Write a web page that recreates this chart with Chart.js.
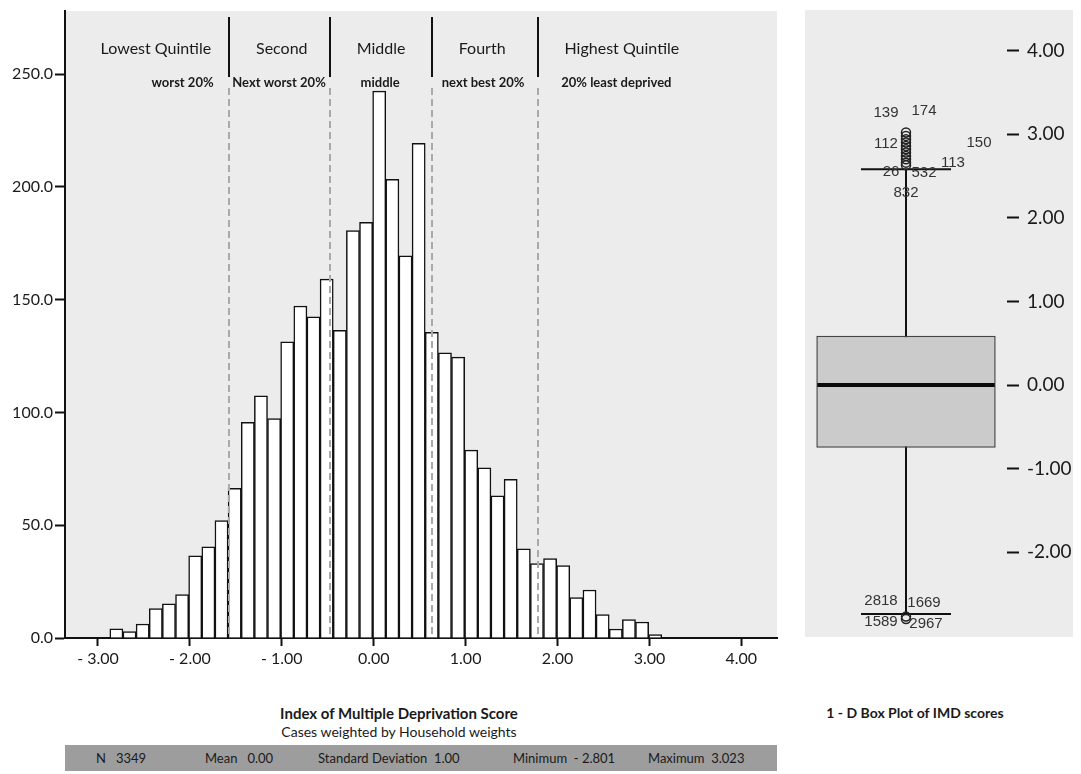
<!DOCTYPE html>
<html><head><meta charset="utf-8">
<script src="https://cdn.jsdelivr.net/npm/chart.js@4"></script>
<style>
body{margin:0;background:#fff;width:1081px;height:774px;position:relative;overflow:hidden;font-family:Lato,sans-serif;color:#1a1a1a}
#c1{position:absolute;left:0;top:0}
#c2{position:absolute;left:805px;top:10px;background:#ececec}
.t{position:absolute;white-space:nowrap}
#stats{position:absolute;left:65px;top:745px;width:712px;height:26px;background:#9d9d9d;font-size:13px;line-height:26px}
#stats span{position:absolute;top:0;white-space:pre}
</style></head><body>
<canvas id="c1" width="800" height="690"></canvas>
<canvas id="c2" width="268" height="627"></canvas>
<div class="t" style="left:0;width:798px;top:704px;text-align:center;font-weight:700;font-size:15px">Index of Multiple Deprivation Score</div>
<div class="t" style="left:0;width:798px;top:723px;text-align:center;font-size:14px">Cases weighted by Household weights</div>
<div class="t" style="left:815px;width:200px;top:704px;text-align:center;font-weight:700;font-size:14px">1 - D Box Plot of IMD scores</div>
<div id="stats">
<span style="left:31px">N   3349</span>
<span style="left:140px">Mean   0.00</span>
<span style="left:253px">Standard Deviation  1.00</span>
<span style="left:448px">Minimum  - 2.801</span>
<span style="left:583px">Maximum  3.023</span>
</div>
<script>
// ---- histogram data ----
const binCenters = [-2.800,-2.657,-2.514,-2.371,-2.228,-2.085,-1.942,-1.799,-1.656,-1.513,
  -1.370,-1.227,-1.084,-0.941,-0.798,-0.655,-0.512,-0.369,-0.226,-0.083,
  0.060,0.203,0.346,0.489,0.632,0.775,0.918,1.061,1.204,1.347,
  1.490,1.633,1.776,1.919,2.062,2.205,2.348,2.491,2.634,2.777,2.920,3.063];
const binCounts = [4.1,2.9,6.2,13.0,15.2,19.2,36.4,40.4,52.1,66.4,
  95.6,107.4,97.3,131.3,147.2,142.4,159.1,136.4,180.6,184.3,
  242.5,203.4,169.5,219.3,135.5,126.4,124.5,83.3,75.4,63.0,
  70.3,39.5,33.0,35.2,32.1,17.9,21.3,10.4,4.0,8.2,7.1,1.5];
const xTickValues = [-3,-2,-1,0,1,2,3,4];
const xTickLabels = ['- 3.00','- 2.00','- 1.00','0.00','1.00','2.00','3.00','4.00'];
const yTickValues = [0,50,100,150,200,250];
const yTickLabels = ['0.0','50.0','100.0','150.0','200.0','250.0'];
const quintileCuts = [-1.58,-0.48,0.63,1.79];
const quintileNames = ['Lowest Quintile','Second','Middle','Fourth','Highest Quintile'];
const quintileNotes = ['worst 20%','Next worst 20%','middle','next best 20%','20% least deprived'];
// ---- box plot data ----
const boxQuartiles = [-0.75, 0.59];
const boxMedian = 0.0;
const boxWhiskers = [-2.74, 2.58];
const outlierValues = [3.02,2.98,2.94,2.90,2.86,2.82,2.78,2.74,2.70,2.66,2.63,-2.77,-2.80];
const outlierCaseIds = ['139','174','112','150','113','26','532','832','2818','1669','1589','2967'];
const boxTickValues = [-2,-1,0,1,2,3,4];
const boxTickLabels = ['-2.00','-1.00','0.00','1.00','2.00','3.00','4.00'];

// layout-only settings (not data)
const quintileNameX = [-2.37,-1.00,0.08,1.18,2.70];
const quintileNoteX = [-2.08,-1.03,0.07,1.19,2.64];
const caseLabelY = [3.25,3.28,2.88,2.90,2.66,2.55,2.54,2.30,-2.58,-2.60,-2.83,-2.86];
const caseLabelDx = [-20,18,-20,73,47,-15,18,0,-25,18,-25,20];

Chart.defaults.font.family = 'Lato, sans-serif';
Chart.defaults.color = '#1a1a1a';

const bgPlugin = {id:'bg', beforeDraw(chart){
  const a = chart.chartArea, c = chart.ctx;
  c.save(); c.fillStyle = '#ececec';
  c.fillRect(a.left, a.top, a.right - a.left, a.bottom - a.top); c.restore();
}};

const qPlugin = {id:'q', afterDatasetsDraw(chart){
  const x = chart.scales.x, c = chart.ctx, a = chart.chartArea;
  c.save();
  quintileCuts.forEach(v => {
    const px = Math.round(x.getPixelForValue(v));
    c.strokeStyle = '#a9a9a9'; c.lineWidth = 2; c.setLineDash([7,4]);
    c.beginPath(); c.moveTo(px, 88); c.lineTo(px, a.bottom); c.stroke();
    c.setLineDash([]); c.strokeStyle = '#111';
    c.beginPath(); c.moveTo(px, 17); c.lineTo(px, 77); c.stroke();
  });
  c.fillStyle = '#1a1a1a'; c.textAlign = 'center'; c.textBaseline = 'middle';
  c.font = '16px Lato';
  quintileNames.forEach((t,i) => c.fillText(t, x.getPixelForValue(quintileNameX[i]), 49));
  c.font = 'bold 13px Lato';
  quintileNotes.forEach((t,i) => c.fillText(t, x.getPixelForValue(quintileNoteX[i]), 83));
  c.restore();
}};

new Chart(document.getElementById('c1'), {
  type: 'bar',
  data: {datasets: [{
    data: binCenters.map((v,i) => ({x: v, y: binCounts[i]})),
    backgroundColor: '#ffffff', borderColor: '#111', borderWidth: 1.5,
    barPercentage: 1, categoryPercentage: 1
  }]},
  options: {
    responsive: false, animation: false,
    layout: {padding: {top: 11, right: 23, left: 0, bottom: 0}, autoPadding: false},
    plugins: {legend: {display: false}, tooltip: {enabled: false}},
    scales: {
      x: {type: 'linear', min: -3.359, max: 4.388, offset: false,
        grid: {offset: false, drawOnChartArea: false, drawTicks: true, tickLength: 8, tickWidth: 2, tickColor: '#111'},
        border: {display: true, color: '#111', width: 2},
        afterBuildTicks(s){ s.ticks = xTickValues.map(v => ({value: v})); },
        afterFit(s){ s.height = 52; s.paddingLeft = 0; s.paddingRight = 0; },
        ticks: {padding: 3, font: {size: 16}, color: '#1a1a1a', maxRotation: 0, autoSkip: false,
          callback: (v, i) => xTickLabels[i]}
      },
      y: {type: 'linear', min: 0, max: 278,
        grid: {drawOnChartArea: false, drawTicks: true, tickLength: 10, tickWidth: 2, tickColor: '#111'},
        border: {display: true, color: '#111', width: 2},
        afterBuildTicks(s){ s.ticks = yTickValues.map(v => ({value: v})); },
        afterFit(s){ s.width = 65; s.paddingTop = 0; s.paddingBottom = 0; },
        ticks: {padding: 2, font: {size: 16}, color: '#1a1a1a', callback: (v, i) => yTickLabels[i]}
      }
    }
  },
  plugins: [bgPlugin, qPlugin]
});

const boxPlugin = {id:'box',
  beforeDatasetsDraw(chart){
    const c = chart.ctx, x = chart.scales.x, y = chart.scales.y;
    const cx = x.getPixelForValue(0);
    c.save(); c.strokeStyle = '#111'; c.lineWidth = 2;
    c.beginPath(); c.moveTo(cx, y.getPixelForValue(boxWhiskers[0])); c.lineTo(cx, y.getPixelForValue(boxWhiskers[1])); c.stroke();
    boxWhiskers.forEach(w => { const py = y.getPixelForValue(w);
      c.beginPath(); c.moveTo(cx - 45, py); c.lineTo(cx + 45, py); c.stroke(); });
    c.restore();
  },
  afterDatasetsDraw(chart){
    const c = chart.ctx, x = chart.scales.x, y = chart.scales.y;
    const bar = chart.getDatasetMeta(1).data[0];
    const cx = x.getPixelForValue(0);
    c.save();
    c.strokeStyle = '#0a0a0a'; c.lineWidth = 4;
    const my = y.getPixelForValue(boxMedian);
    c.beginPath(); c.moveTo(bar.x - bar.width/2 + 1, my); c.lineTo(bar.x + bar.width/2 - 1, my); c.stroke();
    c.fillStyle = '#333'; c.font = '15px "Liberation Sans", Arial, sans-serif';
    c.textAlign = 'center'; c.textBaseline = 'middle';
    outlierCaseIds.forEach((t,i) => c.fillText(t, cx + caseLabelDx[i], y.getPixelForValue(caseLabelY[i])));
    c.restore();
  }
};

new Chart(document.getElementById('c2'), {
  type: 'bar',
  data: {labels: ['IMD'], datasets: [
    {type: 'line', data: outlierValues.map(v => ({x: 'IMD', y: v})), showLine: false,
     pointStyle: 'circle', pointRadius: 4.5, pointBorderWidth: 1.5, pointBorderColor: '#222',
     pointBackgroundColor: 'rgba(0,0,0,0)', order: 0},
    {type: 'bar', data: [boxQuartiles], backgroundColor: '#cbcbcb', borderColor: '#444',
     borderWidth: 1.5, borderSkipped: false, barPercentage: 0.888, categoryPercentage: 1, order: 1}
  ]},
  options: {
    responsive: false, animation: false,
    layout: {padding: 0, autoPadding: false},
    plugins: {legend: {display: false}, tooltip: {enabled: false}},
    scales: {
      x: {type: 'category', display: false, offset: true, grid: {offset: true}},
      y: {type: 'linear', position: 'right', min: -3.014, max: 4.486,
        grid: {drawOnChartArea: false, drawTicks: true, tickLength: 12, tickWidth: 2, tickColor: '#111'},
        border: {display: false},
        afterBuildTicks(s){ s.ticks = boxTickValues.map(v => ({value: v})); },
        afterFit(s){ s.width = 66; s.paddingTop = 0; s.paddingBottom = 0; },
        ticks: {padding: 8, font: {size: 19}, color: '#1a1a1a', callback: (v, i) => boxTickLabels[i]}
      }
    }
  },
  plugins: [boxPlugin]
});
</script>
</body></html>
